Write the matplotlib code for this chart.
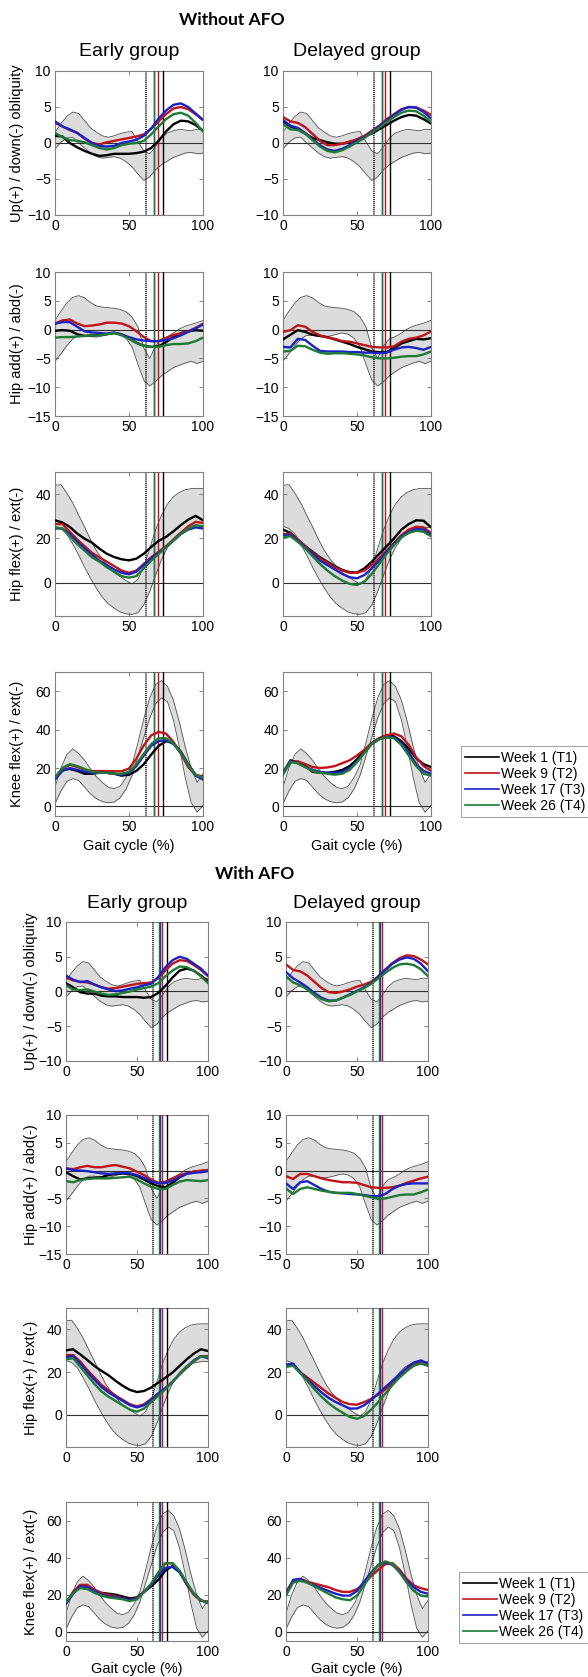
import numpy as np
import matplotlib
matplotlib.use("Agg")
from matplotlib import pyplot as plt
from matplotlib.lines import Line2D

plt.rcParams['font.family'] = ['Liberation Sans', 'DejaVu Sans']

# gait cycle samples (%)
pct = np.arange(0, 101, 5)
band_pct = np.arange(0, 101, 4)

# normative bands (mean +/- sd)
obl_hi = [1.5, 2.7, 3.7, 4.3, 4.1, 3.1, 2.1, 1.5, 1.0, 0.8, 1.0, 1.3, 1.5, 1.6, 0.2, -1.1, -1.5, -0.5, 0.7, 1.4, 1.7, 1.9, 1.8, 1.7, 1.9, 1.9]
obl_lo = [-0.8, 0.1, 0.7, 0.8, 0.0, -0.7, -1.4, -1.9, -2.1, -2.0, -1.9, -2.1, -2.6, -3.3, -4.3, -5.2, -4.7, -3.7, -3.0, -2.5, -2.0, -1.7, -1.4, -1.3, -1.5, -1.4]
add_hi = [1.6, 3.2, 4.6, 5.6, 5.9, 5.5, 4.7, 4.1, 3.9, 3.8, 3.7, 3.5, 3.1, 2.2, 0.5, -3.2, -5.0, -2.8, -1.6, -1.2, -0.6, 0.1, 0.6, 0.9, 1.2, 1.6]
add_lo = [-5.5, -4.2, -2.8, -1.6, -1.0, -1.0, -1.2, -1.3, -1.1, -0.8, -0.6, -0.8, -1.5, -3.0, -6.0, -8.8, -9.8, -9.0, -8.0, -7.3, -6.6, -6.2, -5.8, -5.5, -5.9, -5.5]
flx_hi = [44.0, 44.3, 40.5, 36.0, 30.5, 25.2, 19.5, 14.5, 10.5, 7.5, 4.5, 2.8, 1.0, -0.5, 1.5, 7.0, 15.5, 24.0, 30.5, 35.5, 38.8, 40.8, 42.0, 42.5, 42.6, 42.6]
flx_lo = [25.5, 24.5, 22.0, 17.5, 12.5, 7.0, 2.0, -2.5, -6.5, -9.5, -11.5, -13.2, -14.0, -14.3, -13.5, -10.0, -4.0, 3.5, 10.5, 16.0, 20.0, 22.5, 24.0, 24.5, 25.0, 25.0]
knee_hi = [10.0, 20.0, 27.0, 30.0, 27.5, 24.0, 19.5, 15.5, 12.5, 10.0, 9.2, 10.5, 15.0, 21.5, 33.0, 45.7, 56.5, 63.5, 65.5, 62.5, 55.3, 44.0, 31.0, 20.0, 12.5, 17.0]
knee_lo = [1.4, 8.0, 13.0, 14.5, 13.5, 10.0, 6.5, 4.0, 2.5, 1.9, 2.3, 4.5, 9.0, 16.0, 26.0, 36.0, 46.0, 53.5, 56.5, 54.5, 45.0, 31.0, 15.0, 2.0, -3.0, 0.5]

# ---- Without AFO ----
obl_early_noafo_t1 = [1.0, 0.9, 0.0, -0.6, -1.1, -1.5, -1.8, -1.7, -1.5, -1.5, -1.5, -1.4, -1.2, -0.7, 0.3, 1.6, 2.6, 3.1, 3.0, 2.5, 1.7]
obl_early_noafo_t2 = [2.8, 2.3, 1.8, 1.4, 0.6, 0.0, -0.2, 0.1, 0.3, 0.5, 0.7, 0.9, 1.2, 2.0, 3.0, 4.0, 4.8, 5.0, 4.7, 4.0, 3.2]
obl_early_noafo_t3 = [3.0, 2.3, 1.9, 1.4, 0.7, 0.0, -0.4, -0.5, -0.4, 0.0, 0.2, 0.45, 1.0, 2.0, 3.4, 4.5, 5.3, 5.5, 5.0, 4.1, 3.2]
obl_early_noafo_t4 = [1.4, 0.8, 0.4, 0.3, 0.1, -0.3, -0.7, -0.9, -0.7, -0.3, -0.1, 0.0, 0.3, 1.2, 2.3, 3.3, 4.0, 4.2, 3.8, 2.8, 1.6]
obl_late_noafo_t1 = [3.0, 2.3, 1.9, 1.3, 0.7, 0.4, 0.1, -0.1, -0.1, 0.1, 0.5, 0.9, 1.3, 1.9, 2.5, 3.1, 3.6, 3.9, 3.8, 3.3, 2.7]
obl_late_noafo_t2 = [3.6, 3.0, 2.8, 2.2, 1.25, 0.3, -0.3, -0.3, -0.1, 0.2, 0.5, 1.0, 1.7, 2.4, 3.3, 4.0, 4.7, 5.0, 4.95, 4.5, 3.9]
obl_late_noafo_t3 = [3.2, 2.4, 2.1, 1.4, 0.5, -0.3, -0.9, -1.1, -0.8, -0.3, 0.3, 0.8, 1.5, 2.3, 3.1, 3.9, 4.6, 5.0, 4.9, 4.3, 3.4]
obl_late_noafo_t4 = [2.6, 1.9, 1.8, 1.3, 0.4, -0.5, -1.1, -1.3, -1.0, -0.5, 0.1, 0.7, 1.4, 2.1, 2.9, 3.6, 4.2, 4.5, 4.4, 3.8, 2.9]

add_early_noafo_t1 = [-0.2, -0.1, -0.2, -0.8, -1.1, -1.0, -0.9, -0.8, -0.6, -0.8, -1.5, -2.3, -2.8, -3.0, -2.9, -2.2, -1.3, -0.6, -0.3, -0.1, -0.2]
add_early_noafo_t2 = [1.05, 1.6, 1.75, 1.05, 0.6, 0.7, 0.9, 1.2, 1.2, 1.05, 0.6, -0.3, -1.3, -2.0, -2.0, -1.5, -0.9, -0.7, -0.3, 0.3, 1.0]
add_early_noafo_t3 = [1.0, 1.3, 1.3, 0.5, -0.3, -0.5, -0.6, -0.7, -0.5, -0.9, -1.3, -1.7, -1.9, -2.0, -2.0, -1.8, -1.5, -1.0, -0.4, 0.2, 0.9]
add_early_noafo_t4 = [-1.4, -1.3, -1.3, -1.2, -1.1, -1.0, -1.0, -0.8, -0.6, -1.0, -1.6, -2.3, -2.8, -3.0, -3.0, -2.7, -2.5, -2.5, -2.4, -2.0, -1.4]
add_late_noafo_t1 = [-1.7, -0.9, -0.1, -0.4, -0.9, -1.1, -1.3, -1.7, -2.1, -2.5, -3.0, -3.4, -3.8, -3.9, -3.9, -3.2, -2.4, -2.0, -1.6, -1.7, -1.5]
add_late_noafo_t2 = [-0.4, -0.1, 0.75, 0.5, -0.4, -1.0, -1.4, -1.6, -2.0, -2.1, -2.4, -2.7, -3.0, -3.1, -3.1, -2.9, -2.1, -1.6, -1.4, -1.0, -0.3]
add_late_noafo_t3 = [-3.0, -3.1, -1.6, -1.8, -2.8, -3.7, -3.8, -3.8, -3.8, -3.9, -3.9, -4.0, -4.0, -4.1, -4.0, -3.5, -3.1, -3.0, -3.2, -3.5, -3.0]
add_late_noafo_t4 = [-3.8, -3.7, -2.8, -2.9, -3.5, -4.0, -4.2, -4.1, -4.1, -4.2, -4.3, -4.5, -4.8, -5.0, -5.0, -4.9, -4.7, -4.6, -4.6, -4.3, -3.8]

flx_early_noafo_t1 = [28.2, 27.2, 25.2, 22.2, 19.9, 18.1, 15.4, 13.1, 11.6, 10.6, 10.1, 10.9, 13.1, 16.2, 18.9, 20.7, 23.2, 26.0, 28.5, 30.2, 28.2]
flx_early_noafo_t2 = [26.5, 26.5, 23.0, 19.5, 16.5, 13.5, 11.5, 9.5, 7.5, 5.5, 4.5, 5.5, 8.5, 11.5, 14.0, 16.5, 19.5, 22.5, 25.5, 27.5, 27.0]
flx_early_noafo_t3 = [24.5, 24.5, 22.0, 18.5, 15.5, 12.5, 10.0, 8.0, 6.0, 4.5, 3.8, 5.0, 8.0, 11.0, 13.5, 16.0, 19.0, 22.0, 24.0, 25.0, 24.5]
flx_early_noafo_t4 = [25.0, 24.5, 21.0, 17.5, 14.5, 11.5, 9.5, 7.0, 5.0, 3.0, 2.3, 3.0, 6.5, 10.0, 13.0, 16.0, 19.0, 22.0, 24.5, 26.0, 25.5]
flx_late_noafo_t1 = [24.0, 22.5, 19.5, 16.5, 14.0, 11.5, 9.5, 7.5, 5.8, 4.8, 4.6, 6.5, 9.5, 13.0, 16.5, 20.0, 24.0, 26.5, 28.2, 28.0, 25.0]
flx_late_noafo_t2 = [22.0, 22.0, 19.5, 16.5, 13.5, 11.0, 9.0, 7.0, 5.5, 4.5, 4.5, 5.5, 8.0, 11.0, 14.5, 18.0, 21.5, 24.0, 25.3, 25.0, 22.5]
flx_late_noafo_t3 = [21.5, 21.5, 19.0, 16.0, 13.0, 10.0, 8.0, 6.0, 4.0, 2.5, 2.0, 3.5, 6.5, 10.0, 14.0, 17.5, 21.0, 23.0, 24.3, 24.0, 21.5]
flx_late_noafo_t4 = [20.5, 21.0, 18.5, 15.5, 12.0, 8.5, 5.5, 3.0, 1.0, -0.5, -1.0, 0.5, 4.0, 8.5, 13.0, 17.0, 20.5, 22.5, 23.5, 23.0, 21.0]

knee_early_noafo_t1 = [15.0, 19.0, 19.5, 18.5, 17.0, 17.0, 17.5, 17.5, 17.0, 16.0, 16.5, 18.5, 22.0, 27.0, 31.5, 34.0, 33.0, 28.5, 22.0, 16.5, 15.0]
knee_early_noafo_t2 = [15.3, 19.7, 21.7, 20.5, 19.1, 18.4, 18.4, 18.4, 18.3, 18.3, 19.7, 24.9, 31.8, 37.0, 38.8, 37.9, 33.6, 27.5, 20.5, 16.2, 15.7]
knee_early_noafo_t3 = [14.0, 18.5, 20.0, 19.0, 18.0, 17.5, 17.5, 17.5, 17.0, 16.5, 17.5, 21.0, 26.5, 31.5, 34.0, 34.5, 32.5, 28.0, 22.0, 16.0, 14.0]
knee_early_noafo_t4 = [15.0, 20.0, 22.0, 21.0, 19.5, 18.0, 17.5, 17.5, 17.0, 17.0, 18.0, 22.0, 27.5, 32.5, 35.5, 35.5, 33.0, 28.0, 21.5, 16.5, 15.0]
knee_late_noafo_t1 = [17.5, 24.0, 23.0, 21.0, 18.0, 17.5, 17.5, 18.0, 19.0, 21.0, 24.5, 29.0, 33.0, 35.5, 37.0, 36.5, 34.0, 30.0, 25.0, 22.0, 20.5]
knee_late_noafo_t2 = [18.0, 23.0, 23.5, 22.0, 20.5, 20.0, 20.3, 21.0, 22.5, 24.0, 26.5, 29.5, 33.0, 35.5, 37.0, 38.0, 36.5, 32.0, 25.5, 21.0, 18.5]
knee_late_noafo_t3 = [17.0, 23.5, 22.5, 20.5, 19.0, 18.0, 17.5, 17.5, 18.0, 20.0, 23.5, 28.0, 32.5, 35.0, 36.0, 36.0, 33.0, 28.0, 22.0, 18.5, 17.0]
knee_late_noafo_t4 = [16.5, 23.0, 22.5, 20.5, 18.5, 17.5, 17.0, 16.5, 17.0, 19.0, 23.0, 28.0, 32.5, 35.0, 36.0, 35.5, 32.0, 26.5, 21.0, 17.0, 16.0]

# ---- With AFO (no week 1 data for the delayed group) ----
obl_early_afo_t1 = [1.2, 0.6, -0.1, -0.3, -0.3, -0.6, -0.7, -0.7, -0.8, -0.8, -0.8, -0.9, -0.8, -0.2, 0.8, 2.0, 3.0, 3.3, 3.0, 2.3, 1.5]
obl_early_afo_t2 = [2.0, 1.6, 1.4, 1.3, 1.0, 0.6, 0.4, 0.5, 0.7, 0.9, 1.1, 1.2, 1.3, 1.9, 3.0, 4.0, 4.5, 4.4, 3.8, 3.1, 2.2]
obl_early_afo_t3 = [2.3, 1.7, 1.35, 1.5, 1.0, 0.6, 0.3, 0.05, 0.15, 0.4, 0.6, 0.9, 1.1, 2.1, 3.5, 4.5, 5.0, 4.7, 4.0, 3.3, 2.3]
obl_early_afo_t4 = [0.9, 0.3, 0.2, 0.3, 0.0, -0.3, -0.5, -0.4, -0.2, 0.0, 0.3, 0.5, 0.7, 1.2, 2.2, 3.0, 3.6, 3.5, 3.0, 2.2, 1.2]
obl_late_afo_t2 = [3.9, 3.1, 2.9, 2.3, 1.4, 0.5, -0.1, -0.2, 0.0, 0.3, 0.7, 1.0, 1.4, 2.2, 3.2, 4.1, 4.8, 5.2, 5.1, 4.6, 3.9]
obl_late_afo_t3 = [2.8, 1.9, 1.3, 0.6, -0.2, -0.9, -1.3, -1.3, -0.9, -0.4, 0.1, 0.6, 1.2, 2.1, 3.1, 4.0, 4.6, 4.9, 4.7, 4.0, 2.9]
obl_late_afo_t4 = [2.2, 1.3, 0.9, 0.3, -0.5, -1.1, -1.4, -1.3, -0.9, -0.5, 0.0, 0.5, 1.1, 1.9, 2.7, 3.4, 3.9, 4.0, 3.8, 3.2, 2.2]

add_early_afo_t1 = [-0.3, -1.0, -1.6, -1.4, -1.3, -1.2, -0.8, -0.6, -0.5, -0.6, -1.0, -1.6, -2.3, -2.8, -3.0, -2.2, -1.2, -0.5, -0.2, -0.1, 0.0]
add_early_afo_t2 = [0.4, 0.25, 0.6, 0.85, 0.6, 0.6, 0.85, 1.0, 0.7, 0.4, -0.2, -0.8, -1.6, -2.2, -2.0, -1.4, -0.8, -0.5, -0.2, 0.0, 0.1]
add_early_afo_t3 = [0.4, 0.1, 0.0, -0.1, -0.3, -0.5, -0.6, -0.5, -0.4, -0.5, -0.8, -1.3, -1.9, -2.3, -2.2, -1.8, -1.2, -0.6, -0.4, -0.3, -0.1]
add_early_afo_t4 = [-1.9, -2.1, -1.7, -1.5, -1.4, -1.4, -1.4, -1.3, -1.2, -1.1, -1.6, -2.3, -2.9, -3.3, -3.3, -2.6, -2.0, -1.7, -1.8, -1.9, -1.7]
add_late_afo_t2 = [-1.0, -1.5, -0.6, -0.6, -1.0, -1.4, -1.7, -1.9, -2.1, -2.1, -2.2, -2.6, -3.0, -3.1, -3.1, -3.0, -2.7, -2.2, -1.8, -1.4, -1.1]
add_late_afo_t3 = [-2.3, -3.3, -2.1, -1.9, -2.6, -3.3, -3.8, -4.0, -4.1, -4.2, -4.3, -4.4, -4.6, -4.6, -4.2, -3.3, -2.7, -2.4, -2.3, -2.3, -2.3]
add_late_afo_t4 = [-3.2, -4.2, -3.3, -3.0, -3.3, -3.6, -3.8, -4.0, -4.0, -4.0, -4.2, -4.5, -4.8, -5.1, -5.0, -4.7, -4.4, -4.3, -4.3, -3.9, -3.4]

flx_early_afo_t1 = [30.2, 30.7, 28.3, 25.7, 22.9, 20.6, 18.5, 15.9, 13.6, 11.7, 10.7, 11.2, 12.8, 15.1, 17.4, 19.8, 22.9, 26.0, 28.7, 30.7, 29.9]
flx_early_afo_t2 = [28.0, 28.0, 25.0, 21.0, 17.5, 14.0, 11.5, 9.0, 7.0, 5.0, 4.0, 5.0, 7.5, 10.0, 12.5, 15.5, 19.0, 22.0, 25.0, 27.5, 27.5]
flx_early_afo_t3 = [27.0, 27.5, 24.0, 20.0, 16.5, 13.0, 10.5, 8.5, 6.5, 4.5, 3.5, 4.5, 7.0, 10.0, 12.5, 15.5, 19.0, 22.5, 25.5, 27.5, 26.5]
flx_early_afo_t4 = [26.0, 26.5, 22.5, 18.5, 14.5, 11.0, 8.5, 6.5, 4.5, 2.5, 1.5, 3.0, 6.0, 9.0, 12.0, 15.5, 19.0, 22.5, 25.0, 27.5, 27.0]
flx_late_afo_t2 = [23.5, 23.5, 20.0, 17.5, 15.0, 12.5, 10.0, 8.0, 6.0, 5.0, 4.8, 6.0, 7.5, 9.5, 12.0, 15.0, 18.0, 21.0, 23.5, 24.5, 23.0]
flx_late_afo_t3 = [23.5, 24.0, 20.0, 16.5, 13.5, 10.5, 8.0, 6.0, 4.5, 3.0, 3.0, 4.5, 7.0, 10.0, 13.0, 16.0, 19.0, 22.0, 24.5, 25.5, 24.0]
flx_late_afo_t4 = [22.5, 23.0, 19.5, 16.0, 12.0, 8.5, 5.5, 3.0, 1.0, -1.0, -1.8, -0.5, 2.5, 6.0, 10.0, 14.0, 17.5, 20.5, 23.0, 24.0, 23.0]

knee_early_afo_t1 = [15.5, 21.0, 24.5, 24.5, 22.5, 21.0, 20.5, 20.0, 19.0, 18.0, 18.5, 21.5, 24.5, 28.0, 33.0, 35.5, 32.5, 26.0, 20.5, 17.0, 15.5]
knee_early_afo_t2 = [15.4, 21.7, 25.3, 25.3, 22.6, 20.8, 19.9, 19.0, 18.1, 17.2, 18.1, 21.7, 25.3, 31.6, 37.0, 37.0, 32.5, 25.3, 19.9, 16.7, 16.3]
knee_early_afo_t3 = [15.0, 20.5, 24.5, 24.0, 22.0, 20.0, 19.0, 18.5, 18.0, 17.0, 18.0, 21.5, 25.5, 30.5, 34.5, 35.0, 32.0, 26.0, 20.5, 17.0, 15.5]
knee_early_afo_t4 = [16.0, 21.0, 23.5, 23.0, 21.0, 19.5, 18.5, 18.0, 17.5, 16.5, 17.5, 21.5, 26.0, 32.0, 37.0, 37.0, 33.0, 26.5, 20.5, 17.0, 15.5]
knee_late_afo_t2 = [21.5, 27.5, 28.5, 27.0, 26.0, 25.0, 24.0, 22.5, 21.5, 21.5, 23.0, 26.0, 30.0, 33.5, 36.5, 37.0, 33.5, 28.5, 25.0, 23.5, 22.5]
knee_late_afo_t3 = [20.0, 28.0, 28.5, 26.5, 25.0, 23.5, 22.0, 20.5, 19.5, 19.5, 22.0, 27.0, 32.0, 36.0, 37.5, 36.0, 32.5, 27.5, 24.0, 21.5, 20.5]
knee_late_afo_t4 = [19.5, 26.5, 27.5, 26.5, 24.5, 22.5, 20.5, 18.5, 17.5, 17.0, 19.5, 25.0, 31.0, 36.0, 38.0, 36.5, 32.0, 26.5, 22.0, 19.5, 19.0]

# toe-off (% of gait cycle): normative (two dotted lines) and per week
toeoff_norm = [60.6, 61.6]
toeoff_early_noafo = [73.0, 69.5, 67.2, 67.0]
toeoff_late_noafo = [72.0, 69.0, 66.8, 66.7]
toeoff_early_afo = [71.0, 67.3, 66.5, 65.8]
toeoff_late_afo = [None, 67.8, 66.2, 65.5]

weeks = ['Week 1 (T1)', 'Week 9 (T2)', 'Week 17 (T3)', 'Week 26 (T4)']
colors = ['#000000', '#c0141b', '#1a22c4', '#1e7a34']

row_labels = ['Up(+) / down(-) obliquity', 'Hip add(+) / abd(-)',
              'Hip flex(+) / ext(-)', 'Knee flex(+) / ext(-)']
ylims = [(-10, 10), (-15, 10), (-15, 50), (-5, 70)]
yticks = [[-10, -5, 0, 5, 10], [-15, -10, -5, 0, 5, 10], [0, 20, 40], [0, 20, 40, 60]]
bands = [(obl_lo, obl_hi), (add_lo, add_hi), (flx_lo, flx_hi), (knee_lo, knee_hi)]

noafo = [
    [[obl_early_noafo_t1, obl_early_noafo_t2, obl_early_noafo_t3, obl_early_noafo_t4],
     [obl_late_noafo_t1, obl_late_noafo_t2, obl_late_noafo_t3, obl_late_noafo_t4]],
    [[add_early_noafo_t1, add_early_noafo_t2, add_early_noafo_t3, add_early_noafo_t4],
     [add_late_noafo_t1, add_late_noafo_t2, add_late_noafo_t3, add_late_noafo_t4]],
    [[flx_early_noafo_t1, flx_early_noafo_t2, flx_early_noafo_t3, flx_early_noafo_t4],
     [flx_late_noafo_t1, flx_late_noafo_t2, flx_late_noafo_t3, flx_late_noafo_t4]],
    [[knee_early_noafo_t1, knee_early_noafo_t2, knee_early_noafo_t3, knee_early_noafo_t4],
     [knee_late_noafo_t1, knee_late_noafo_t2, knee_late_noafo_t3, knee_late_noafo_t4]],
]
afo = [
    [[obl_early_afo_t1, obl_early_afo_t2, obl_early_afo_t3, obl_early_afo_t4],
     [None, obl_late_afo_t2, obl_late_afo_t3, obl_late_afo_t4]],
    [[add_early_afo_t1, add_early_afo_t2, add_early_afo_t3, add_early_afo_t4],
     [None, add_late_afo_t2, add_late_afo_t3, add_late_afo_t4]],
    [[flx_early_afo_t1, flx_early_afo_t2, flx_early_afo_t3, flx_early_afo_t4],
     [None, flx_late_afo_t2, flx_late_afo_t3, flx_late_afo_t4]],
    [[knee_early_afo_t1, knee_early_afo_t2, knee_early_afo_t3, knee_early_afo_t4],
     [None, knee_late_afo_t2, knee_late_afo_t3, knee_late_afo_t4]],
]

W, H = 588, 1677
fig = plt.figure(figsize=(W / 100, H / 100), dpi=100)


def px_axes(x0, y0, w, h):
    return fig.add_axes([x0 / W, 1 - (y0 + h) / H, w / W, h / H])


def draw_panel(ax, r, series, toeoffs):
    lo, hi = bands[r]
    ax.fill_between(band_pct, lo, hi, color='#dcdcdc', lw=0, zorder=1)
    ax.plot(band_pct, lo, color='#505050', lw=0.6, zorder=2)
    ax.plot(band_pct, hi, color='#505050', lw=0.6, zorder=2)
    ax.axhline(0, color='#303030', lw=0.8, zorder=2)
    for t in toeoff_norm:
        ax.axvline(t, color='#202020', lw=0.7, ls=(0, (1, 1)), zorder=3)
    for t, c in zip(toeoffs, colors):
        if t is not None:
            ax.axvline(t, color=c, lw=1.0, zorder=3)
    for s, c in zip(series, colors):
        if s is not None:
            ax.plot(pct, s, color=c, lw=1.7, zorder=4, solid_capstyle='round')
    ax.set_xlim(0, 100)
    ax.set_ylim(*ylims[r])
    ax.set_xticks([0, 50, 100])
    ax.set_yticks(yticks[r])
    ax.tick_params(direction='in', length=3, width=0.6, labelsize=10,
                   top=True, right=True, color='#707070', pad=3)
    for sp in ax.spines.values():
        sp.set_color('#808080')
        sp.set_linewidth(0.8)


def draw_block(data, toe_early, toe_late, lefts, w, tops, h, ylab_x, title, title_y, col_y, xlab_y, leg_box):
    fig.text(np.mean([lefts[0], lefts[1] + w]) / W * 0 + (title[1] / W), 1 - title_y / H, title[0],
             ha='center', va='center', fontsize=12.5, fontweight='bold', family=['Lato', 'DejaVu Sans'])
    for c, name in enumerate(['Early group', 'Delayed group']):
        fig.text((lefts[c] + w / 2) / W, 1 - col_y / H, name, ha='center', va='center', fontsize=14)
    for r in range(4):
        for c in range(2):
            ax = px_axes(lefts[c], tops[r], w, h)
            draw_panel(ax, r, data[r][c], toe_early if c == 0 else toe_late)
            if r == 3:
                fig.text((lefts[c] + w / 2) / W, 1 - xlab_y / H, 'Gait cycle (%)',
                         ha='center', va='center', fontsize=10.5)
        fig.text(ylab_x / W, 1 - (tops[r] + h / 2) / H, row_labels[r], rotation=90,
                 ha='center', va='center', fontsize=10.5)
    handles = [Line2D([], [], color=c, lw=1.2) for c in colors]
    x0, y0, x1, y1 = leg_box
    leg = fig.legend(handles, weeks, loc='lower left',
                     bbox_to_anchor=(x0 / W, 1 - y1 / H), fontsize=10, frameon=True,
                     fancybox=False, edgecolor='#909090', handlelength=2.4,
                     handletextpad=0.2, labelspacing=0.15, borderpad=0.3, borderaxespad=0)
    leg.get_frame().set_linewidth(0.8)


draw_block(noafo, toeoff_early_noafo, toeoff_late_noafo,
           lefts=[55, 283], w=148, tops=[71, 272, 472, 672], h=144, ylab_x=17,
           title=('Without AFO', 232), title_y=20, col_y=52, xlab_y=846,
           leg_box=(461, 747, 587, 817))
draw_block(afo, toeoff_early_afo, toeoff_late_afo,
           lefts=[66, 286], w=142, tops=[922, 1115, 1308, 1502], h=139, ylab_x=31,
           title=('With AFO', 255), title_y=874, col_y=903, xlab_y=1669,
           leg_box=(459, 1577, 580, 1643))

fig.savefig('out.png', dpi=100)
